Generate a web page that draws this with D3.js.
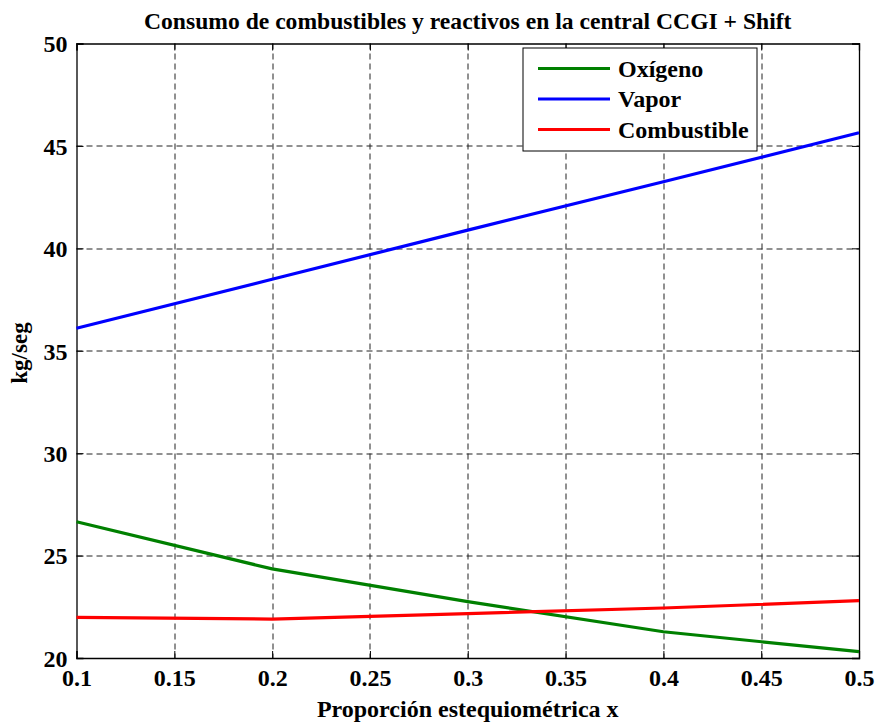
<!DOCTYPE html>
<html>
<head>
<meta charset="utf-8">
<script src="https://cdn.jsdelivr.net/npm/d3@7"></script>
<style>
  body { margin: 0; background: #fff; }
  text { font-family: "Liberation Serif", "DejaVu Serif", serif; font-weight: bold; fill: #000; }
</style>
</head>
<body>
<div id="chart"></div>
<script>
// data
const xs = [0.1, 0.2, 0.3, 0.4, 0.5];
const oxigeno = [26.65, 24.35, 22.75, 21.28, 20.31];
const vapor = [36.1, 38.49, 40.89, 43.25, 45.64];
const combustible = [21.98, 21.9, 22.17, 22.44, 22.8];
const seriesNames = ["Oxígeno", "Vapor", "Combustible"];
const seriesColors = ["#008000", "#0000ff", "#ff0000"];
const xTicks = [0.1, 0.15, 0.2, 0.25, 0.3, 0.35, 0.4, 0.45, 0.5];
const yTicks = [20, 25, 30, 35, 40, 45, 50];

const W = 878, H = 725;
const margin = { top: 43.5, right: 19, bottom: 67, left: 76.5 };
const width = W - margin.left - margin.right,
      height = H - margin.top - margin.bottom;

const svg = d3.select("#chart").append("svg")
    .attr("width", W)
    .attr("height", H);

const g = svg.append("g")
    .attr("transform", `translate(${margin.left},${margin.top})`);

const x = d3.scaleLinear().domain([0.1, 0.5]).range([0, width]);
const y = d3.scaleLinear().domain([20, 50]).range([height, 0]);

// grid
g.append("g").selectAll("line")
  .data(xTicks.slice(1, -1))
  .join("line")
    .attr("x1", d => Math.round(x(d)) + 0.5).attr("x2", d => Math.round(x(d)) + 0.5)
    .attr("y1", 0).attr("y2", height)
    .attr("stroke", "#222").attr("stroke-width", 1)
    .attr("stroke-dasharray", "6,4");
g.append("g").selectAll("line")
  .data(yTicks.slice(1, -1))
  .join("line")
    .attr("y1", d => Math.round(y(d)) + 0.5).attr("y2", d => Math.round(y(d)) + 0.5)
    .attr("x1", 0).attr("x2", width)
    .attr("stroke", "#222").attr("stroke-width", 1)
    .attr("stroke-dasharray", "6,4");

// axes, ticks inward
const xAxis = g.append("g").attr("transform", `translate(0,${height})`)
  .call(d3.axisBottom(x).tickValues(xTicks).tickSize(-7).tickPadding(11).tickFormat(d3.format("~g")));
const xAxisTop = g.append("g")
  .call(d3.axisTop(x).tickValues(xTicks).tickSize(-7).tickFormat(""));
const yAxis = g.append("g")
  .call(d3.axisLeft(y).tickValues(yTicks).tickSize(-7).tickPadding(9));
const yAxisRight = g.append("g").attr("transform", `translate(${width},0)`)
  .call(d3.axisRight(y).tickValues(yTicks).tickSize(-7).tickFormat(""));

[xAxis, xAxisTop, yAxis, yAxisRight].forEach(a => {
  a.selectAll("path").attr("stroke", "#000").attr("stroke-width", 1.3);
  a.selectAll("line").attr("stroke", "#000");
  a.selectAll("text").style("font-size", "24px").attr("fill", "#000");
});
xAxis.selectAll("text").attr("dy", "0.71em");
yAxis.selectAll("text").attr("dy", "0.35em");

// lines
const data = [oxigeno, vapor, combustible];
const line = d3.line().x((d, i) => x(xs[i])).y(d => y(d));
g.append("g").selectAll("path")
  .data(data)
  .join("path")
    .attr("d", line)
    .attr("fill", "none")
    .attr("stroke", (d, i) => seriesColors[i])
    .attr("stroke-width", 3.2);

// legend
const legend = svg.append("g").attr("transform", "translate(523,48)");
legend.append("rect")
  .attr("width", 234).attr("height", 103)
  .attr("fill", "#fff").attr("stroke", "#000").attr("stroke-width", 1);
const item = legend.selectAll("g.item")
  .data(seriesNames)
  .join("g")
    .attr("class", "item")
    .attr("transform", (d, i) => `translate(0,${20.5 + i * 30.5})`);
item.append("line")
  .attr("x1", 15).attr("x2", 87)
  .attr("stroke", (d, i) => seriesColors[i])
  .attr("stroke-width", 3.2);
item.append("text")
  .attr("x", 95).attr("dy", "0.35em")
  .style("font-size", "24px")
  .text(d => d);

// titles
svg.append("text")
  .attr("x", margin.left + width / 2).attr("y", 29)
  .attr("text-anchor", "middle")
  .style("font-size", "23.6px")
  .text("Consumo de combustibles y reactivos en la central CCGI + Shift");
svg.append("text")
  .attr("x", margin.left + width / 2).attr("y", 717)
  .attr("text-anchor", "middle")
  .style("font-size", "24px")
  .text("Proporción estequiométrica x");
svg.append("text")
  .attr("transform", `translate(27,353) rotate(-90)`)
  .attr("text-anchor", "middle")
  .style("font-size", "23px")
  .text("kg/seg");
</script>
</body>
</html>
